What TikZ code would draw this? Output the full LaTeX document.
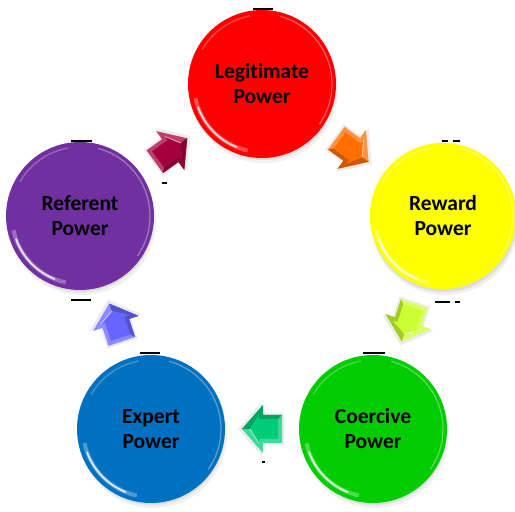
\documentclass[tikz,border=0pt]{standalone}
\usepackage{fontspec}
\setmainfont{Carlito}[Ligatures=NoCommon]
\usetikzlibrary{calc}
\definecolor{cRed}{RGB}{255,0,0}
\definecolor{cYellow}{RGB}{255,255,0}
\definecolor{cGreen}{RGB}{0,204,0}
\definecolor{cBlue}{RGB}{0,112,192}
\definecolor{cPurple}{RGB}{112,48,160}
\definecolor{aCrimson}{RGB}{165,0,60}
\definecolor{aOrange}{RGB}{255,110,0}
\definecolor{aLime}{RGB}{204,255,51}
\definecolor{aMint}{RGB}{0,204,120}
\definecolor{aViolet}{RGB}{102,102,255}
\tikzset{
  power/.style={circle, inner sep=0pt, minimum size=148pt, align=center,
    font=\bfseries\fontsize{21.5}{25}\selectfont, text=black},
  artifact/.style={line width=1.2pt, black},
  blockarrow/.pic={
    \fill[black, opacity=0.08] (-22,-16) -- (0,-16) -- (0,-27) -- (24,0) -- (0,27) -- (0,16) -- (-22,16) -- cycle;
    \fill[#1!75!white] (-20,-14) -- (-1,-14) -- (-1,-24) -- (20,0) -- (-1,24) -- (-1,14) -- (-20,14) -- cycle;
    \fill[#1!80!black] (-20,-14) -- (-1,-14) -- (-1,-24) -- (20,0) -- (12,0) -- (3,-14.5) -- (3,-10) -- (-16,-10) -- cycle;
    \fill[#1] (-16,-10) -- (3,-10) -- (3,-14.5) -- (12,0) -- (3,14.5) -- (3,10) -- (-16,10) -- cycle;
    \draw[white, opacity=0.6, line width=0.8pt] (3,14.5) -- (12,0);
  }
}
\newcommand{\flowarrow}[3]{%
  \path let \p1=($(#2)-(#1)$), \n1={atan2(\y1,\x1)} in
    ($(#1)!0.5!(#2)$) pic[rotate=\n1] {blockarrow=#3};}
\newcommand{\circshadow}[1]{%
  \fill[black, opacity=0.06] ([shift={(2,-5)}]#1) circle[radius=74pt];
  \fill[black, opacity=0.08] ([shift={(1,-3)}]#1) circle[radius=73pt];}
\newcommand{\gloss}[1]{%
  \draw[white, opacity=0.3, line width=4pt] ([shift={(192:68pt)}]#1) arc[start angle=192, end angle=258, radius=68pt];
  \draw[white, opacity=0.85, line width=1.6pt, line cap=round] ([shift={(200:68pt)}]#1) arc[start angle=200, end angle=248, radius=68pt];
  \draw[white, opacity=0.35, line width=1.2pt] ([shift={(-35:70pt)}]#1) arc[start angle=-35, end angle=75, radius=70pt];
  \draw[white, opacity=0.25, line width=1.5pt] ([shift={(100:69pt)}]#1) arc[start angle=100, end angle=150, radius=69pt];}
\begin{document}
\begin{tikzpicture}[x=1pt, y=1pt]
\useasboundingbox (0,0) rectangle (515,512);
\coordinate (pLeg) at (262,428);
\coordinate (pRew) at (443,296);
\coordinate (pCoe) at (373,83);
\coordinate (pExp) at (151,83);
\coordinate (pRef) at (80,296);
\circshadow{pLeg}\circshadow{pRew}\circshadow{pCoe}\circshadow{pExp}\circshadow{pRef}
\node[power, fill=cRed] (leg) at (pLeg) {Legitimate\\Power};
\node[power, fill=cYellow, minimum size=146pt] (rew) at (pRew) {Reward\\Power};
\node[power, fill=cGreen] (coe) at (pCoe) {Coercive\\Power};
\node[power, fill=cBlue] (exp) at (pExp) {Expert\\Power};
\node[power, fill=cPurple] (ref) at (pRef) {Referent\\Power};
\gloss{pLeg}\gloss{pRew}\gloss{pCoe}\gloss{pExp}\gloss{pRef}
\flowarrow{ref}{leg}{aCrimson}
\flowarrow{leg}{rew}{aOrange}
\flowarrow{rew}{coe}{aLime}
\flowarrow{coe}{exp}{aMint}
\flowarrow{exp}{ref}{aViolet}
% small stray marks seen in the picture
\draw[artifact] (71,371) -- (92,371);
\draw[artifact] (71,212) -- (91,212);
\draw[artifact] (162,329) -- (167,329);
\draw[artifact] (253,503) -- (273,503);
\draw[artifact] (442,371) -- (448,371);
\draw[artifact] (453,371) -- (460,371);
\draw[artifact] (435,210) -- (450,210);
\draw[artifact] (455,210) -- (460,210);
\draw[artifact] (140,159) -- (160,159);
\draw[artifact] (363,159) -- (385,159);
\draw[artifact] (262,50) -- (265,50);
\end{tikzpicture}
\end{document}
